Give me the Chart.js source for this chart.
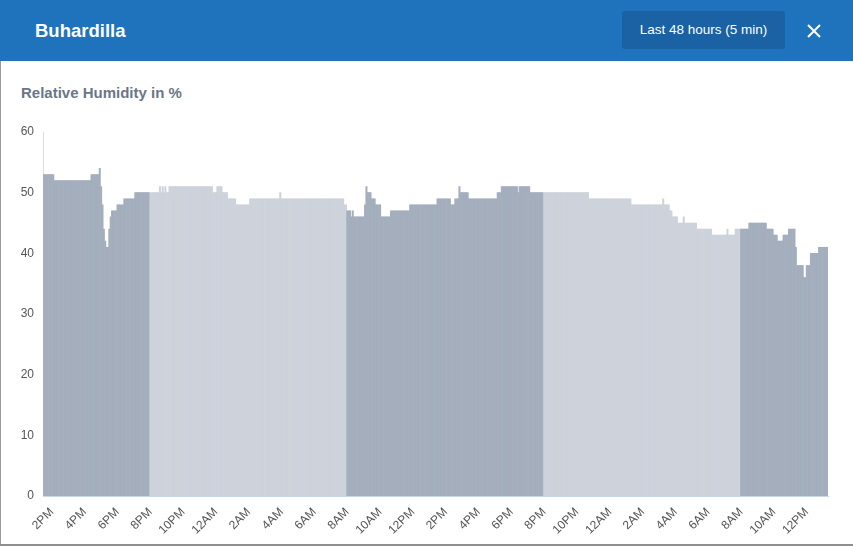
<!DOCTYPE html>
<html><head><meta charset="utf-8">
<script src="https://cdn.jsdelivr.net/npm/chart.js@4.4.0/dist/chart.umd.min.js"></script>
<style>
html,body{margin:0;padding:0;background:#fff;}
body{width:853px;height:546px;position:relative;overflow:hidden;font-family:"Liberation Sans",Arial,Helvetica,sans-serif;}
#header{position:absolute;left:0;top:0;width:853px;height:61px;background:#1f73bd;}
#title{position:absolute;left:35px;top:20px;color:#fff;font-weight:bold;font-size:18.5px;line-height:22px;}
#range{position:absolute;left:622px;top:11px;width:163px;height:38px;background:#1a62a3;border-radius:3px;color:#fff;font-size:13.5px;line-height:38px;text-align:center;}
#close{position:absolute;left:807px;top:24px;width:14px;height:14px;}
#subtitle{position:absolute;left:21px;top:84px;color:#6b7686;font-size:15px;font-weight:bold;line-height:18px;}
#wrap{position:absolute;left:0;top:110px;width:853px;height:436px;}
#edgeL{position:absolute;left:0;top:61px;width:1px;height:485px;background:#9a9a9a;}
#edgeB{position:absolute;left:0;top:544px;width:853px;height:2px;background:#8f8f8f;}
</style>
</head><body>
<div id="header">
  <div id="title">Buhardilla</div>
  <div id="range">Last 48 hours (5 min)</div>
  <svg id="close" viewBox="0 0 14 14"><path d="M1 1L13 13M13 1L1 13" stroke="#fff" stroke-width="2" fill="none"/></svg>
</div>
<div id="subtitle">Relative Humidity in %</div>
<div id="wrap"><canvas id="c"></canvas></div>
<div id="edgeL"></div><div id="edgeB"></div>
<script>
// Series start 1:30 PM, one reading every 5 minutes (12 per row = 1 hour)
const startMinutes = 13 * 60 + 30;
const stepMinutes = 5;
const humidity = [
  53,53,53,53,53,53,53,53,52,52,52,52,
  52,52,52,52,52,52,52,52,52,52,52,52,
  52,52,52,52,52,52,52,52,52,52,52,53,
  53,53,53,53,53,54,51,48,44,42,41,41,
  44,46,47,47,47,47,48,48,48,48,48,49,
  49,49,49,49,49,49,49,50,50,50,50,50,
  50,50,50,50,50,50,50,50,50,50,50,50,
  50,51,50,51,50,51,50,50,51,51,51,51,
  51,51,51,51,51,51,51,51,51,51,51,51,
  51,51,51,51,51,51,51,51,51,51,51,51,
  51,51,51,51,50,50,50,51,51,51,51,50,
  50,50,50,49,49,49,49,49,49,48,48,48,
  48,48,48,48,48,48,48,49,49,49,49,49,
  49,49,49,49,49,49,49,49,49,49,49,49,
  49,49,49,49,49,50,49,49,49,49,49,49,
  49,49,49,49,49,49,49,49,49,49,49,49,
  49,49,49,49,49,49,49,49,49,49,49,49,
  49,49,49,49,49,49,49,49,49,49,49,49,
  49,49,49,49,48,48,47,47,47,46,47,46,
  46,46,46,46,46,46,46,48,51,50,50,50,
  49,49,49,48,48,48,48,46,46,46,46,46,
  46,46,47,47,47,47,47,47,47,47,47,47,
  47,47,47,47,48,48,48,48,48,48,48,48,
  48,48,48,48,48,48,48,48,48,48,48,48,
  49,49,49,49,49,49,49,49,49,49,48,48,
  48,49,49,49,51,50,50,50,50,50,50,49,
  49,49,49,49,49,49,49,49,49,49,49,49,
  49,49,49,49,49,49,49,49,50,50,50,51,
  51,51,51,51,51,51,51,51,51,51,51,50,
  51,51,51,51,51,51,51,51,50,50,50,50,
  50,50,50,50,50,50,50,50,50,50,50,50,
  50,50,50,50,50,50,50,50,50,50,50,50,
  50,50,50,50,50,50,50,50,50,50,50,50,
  50,50,50,49,49,49,49,49,49,49,49,49,
  49,49,49,49,49,49,49,49,49,49,49,49,
  49,49,49,49,49,49,49,49,49,49,48,48,
  48,48,48,48,48,48,48,48,48,48,48,48,
  48,48,48,48,48,48,48,48,48,49,48,48,
  48,48,47,47,46,46,46,46,45,45,45,45,
  46,45,45,45,45,45,45,45,45,45,44,44,
  44,44,44,44,44,44,44,44,44,43,43,43,
  43,43,43,43,43,43,43,43,44,43,43,43,
  43,43,44,44,44,44,44,44,44,44,44,44,
  45,45,45,45,45,45,45,45,45,45,45,45,
  45,44,44,44,44,44,43,43,43,42,42,42,
  42,43,43,43,43,44,44,44,44,44,41,38,
  38,38,38,38,36,36,38,38,38,40,40,40,
  40,40,40,41,41,41,41,41,41,41
];
// Visible x tick labels: every 2 hours starting at 2PM (the 7th reading)
const tickLabels = ['2PM','4PM','6PM','8PM','10PM','12AM','2AM','4AM','6AM','8AM','10AM','12PM',
                    '2PM','4PM','6PM','8PM','10PM','12AM','2AM','4AM','6AM','8AM','10AM','12PM'];
const yTicks = [0, 10, 20, 30, 40, 50, 60];
const firstTickIndex = 6;
const ticksEvery = 24;
const dayStartHour = 8, dayEndHour = 20;

const hours = [];
const categories = [];
for (let i = 0; i < humidity.length; i++) {
  const m = (startMinutes + i * stepMinutes) % (24 * 60);
  const h = Math.floor(m / 60), mm = m % 60;
  hours.push(h);
  const h12 = (h % 12) === 0 ? 12 : h % 12;
  categories.push(h12 + ':' + String(mm).padStart(2, '0') + (h < 12 ? ' AM' : ' PM'));
}
const DAY = '#a4aebd', NIGHT = '#cdd2db';
const colors = hours.map(h => (h >= dayStartHour && h < dayEndHour) ? DAY : NIGHT);

new Chart(document.getElementById('c'), {
  type: 'bar',
  data: {
    labels: categories,
    datasets: [{
      label: 'Relative Humidity',
      data: humidity,
      backgroundColor: colors,
      borderWidth: 0,
      barPercentage: 1,
      categoryPercentage: 1
    }]
  },
  options: {
    responsive: true,
    maintainAspectRatio: false,
    animation: false,
    layout: { padding: { top: 22, right: 25, bottom: 0, left: 0 } },
    plugins: { legend: { display: false }, tooltip: { enabled: false } },
    scales: {
      x: {
        grid: { display: false },
        border: { display: true, color: '#c9d8e6', width: 1 },
        ticks: {
          autoSkip: false,
          minRotation: 45, maxRotation: 45,
          padding: 1,
          color: '#555',
          font: { family: 'Liberation Sans', size: 12 },
          callback: (v, i) => ((i - firstTickIndex) % ticksEvery === 0 && i >= firstTickIndex)
            ? tickLabels[(i - firstTickIndex) / ticksEvery] : null
        },
        afterFit: s => { s.height = 50; }
      },
      y: {
        min: yTicks[0], max: yTicks[yTicks.length - 1],
        grid: { display: false },
        border: { display: true, color: '#dcdcdc', width: 1 },
        ticks: {
          stepSize: 10,
          padding: 1,
          color: '#555',
          font: { family: 'Liberation Sans', size: 12 }
        },
        afterBuildTicks: s => { s.ticks = yTicks.map(v => ({ value: v })); },
        afterFit: s => { s.width = 43; }
      }
    }
  }
});
</script>
</body></html>
